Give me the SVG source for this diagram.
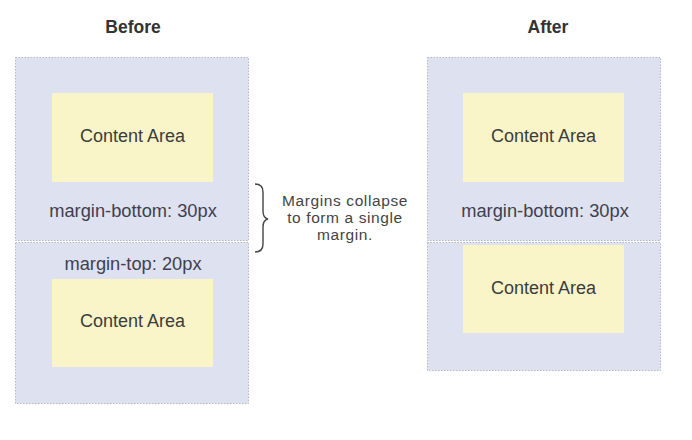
<svg xmlns="http://www.w3.org/2000/svg" width="692" height="440" viewBox="0 0 692 440">
<style>
.box{fill:#dee1ef;stroke:#b4b6c2;stroke-width:1;stroke-dasharray:1.5 1.5}
.content{fill:#f9f5c8}
text{font-family:"Liberation Sans",Arial,sans-serif;font-size:18px;fill:#3c3c3c;text-anchor:middle}
.title{font-weight:bold;font-size:17.5px;fill:#333}
.lbl{fill:#3f4050;font-size:18.3px}
.note{font-size:15.5px;letter-spacing:0.6px;fill:#444}
.brace{fill:none;stroke:#444;stroke-width:1.4}
</style>
<rect width="692" height="440" fill="#ffffff"/>
<text class="title" x="133" y="33">Before</text>
<text class="title" x="548" y="33">After</text>
<g id="before-top">
<rect class="box" x="15.5" y="57.5" width="233" height="183"/>
<rect class="content" x="52" y="93" width="161" height="89"/>
<text x="132.5" y="141.5">Content Area</text>
<text class="lbl" x="133" y="216.5">margin-bottom: 30px</text>
</g>
<g id="before-bottom">
<rect class="box" x="15.5" y="242.5" width="233" height="161"/>
<text class="lbl" x="133" y="269.5">margin-top: 20px</text>
<rect class="content" x="52" y="279" width="161" height="88"/>
<text x="132.5" y="326.5">Content Area</text>
</g>
<g id="after-top">
<rect class="box" x="427.5" y="57.5" width="233" height="183"/>
<rect class="content" x="463" y="93" width="161" height="89"/>
<text x="543.5" y="141.5">Content Area</text>
<text class="lbl" x="545" y="216.5">margin-bottom: 30px</text>
</g>
<g id="after-bottom">
<rect class="box" x="427.5" y="242.5" width="233" height="128"/>
<rect class="content" x="463" y="245" width="161" height="88"/>
<text x="543.5" y="293.5">Content Area</text>
</g>
<g id="connectors">
<path class="brace" d="M255,184 Q263,184 263,192 L263,211 Q263,218 268,219 Q263,220 263,227 L263,244 Q263,252 255,252"/>
</g>
<g id="note">
<text class="note" x="345" y="206">Margins collapse</text>
<text class="note" x="345" y="223">to form a single</text>
<text class="note" x="345" y="240">margin.</text>
</g>
</svg>
